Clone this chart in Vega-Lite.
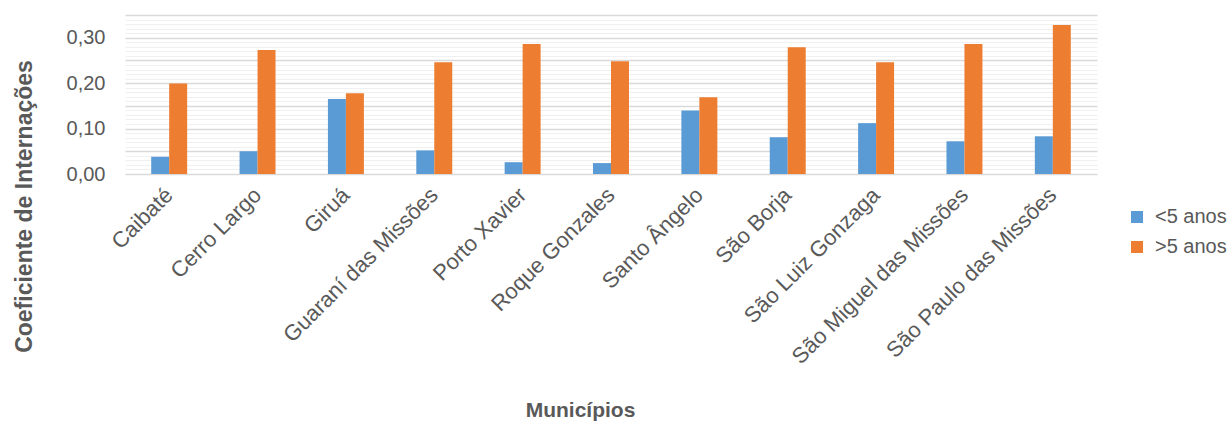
{
  "$schema": "https://vega.github.io/schema/vega-lite/v6.json",
  "width": 972,
  "height": 159,
  "autosize": {"type": "none"},
  "padding": {"left": 125, "top": 15, "right": 132, "bottom": 247},
  "config": {
    "view": {"stroke": null},
    "font": "Liberation Sans",
    "axis": {"labelFont": "Liberation Sans", "titleFont": "Liberation Sans"}
  },
  "data": {
    "values": [
      {"municipio": "Caibaté", "grupo": "<5 anos", "valor": 0.038},
      {"municipio": "Caibaté", "grupo": ">5 anos", "valor": 0.199},
      {"municipio": "Cerro Largo", "grupo": "<5 anos", "valor": 0.050},
      {"municipio": "Cerro Largo", "grupo": ">5 anos", "valor": 0.273},
      {"municipio": "Giruá", "grupo": "<5 anos", "valor": 0.165},
      {"municipio": "Giruá", "grupo": ">5 anos", "valor": 0.178},
      {"municipio": "Guaraní das Missões", "grupo": "<5 anos", "valor": 0.052},
      {"municipio": "Guaraní das Missões", "grupo": ">5 anos", "valor": 0.246},
      {"municipio": "Porto Xavier", "grupo": "<5 anos", "valor": 0.026},
      {"municipio": "Porto Xavier", "grupo": ">5 anos", "valor": 0.286},
      {"municipio": "Roque Gonzales", "grupo": "<5 anos", "valor": 0.024},
      {"municipio": "Roque Gonzales", "grupo": ">5 anos", "valor": 0.248},
      {"municipio": "Santo Ângelo", "grupo": "<5 anos", "valor": 0.140},
      {"municipio": "Santo Ângelo", "grupo": ">5 anos", "valor": 0.169},
      {"municipio": "São Borja", "grupo": "<5 anos", "valor": 0.081},
      {"municipio": "São Borja", "grupo": ">5 anos", "valor": 0.279},
      {"municipio": "São Luiz Gonzaga", "grupo": "<5 anos", "valor": 0.112},
      {"municipio": "São Luiz Gonzaga", "grupo": ">5 anos", "valor": 0.246},
      {"municipio": "São Miguel das Missões", "grupo": "<5 anos", "valor": 0.072},
      {"municipio": "São Miguel das Missões", "grupo": ">5 anos", "valor": 0.286},
      {"municipio": "São Paulo das Missões", "grupo": "<5 anos", "valor": 0.083},
      {"municipio": "São Paulo das Missões", "grupo": ">5 anos", "valor": 0.328}
    ]
  },
  "mark": {"type": "bar"},
  "encoding": {
    "x": {
      "field": "municipio",
      "type": "nominal",
      "sort": null,
      "scale": {"paddingInner": 0.593, "paddingOuter": 0.2965},
      "axis": {
        "title": "Municípios",
        "titleFontSize": 21,
        "titleFontWeight": "bold",
        "titleColor": "#595959",
        "titleX": 455,
        "titleY": 236,
        "titleAlign": "center",
        "titleBaseline": "middle",
        "labelAngle": -45,
        "labelFontSize": 22,
        "labelColor": "#595959",
        "labelPadding": 10,
        "labelOffset": -7,
        "labelLimit": 0,
        "labelOverlap": false,
        "ticks": false,
        "tickSize": 0,
        "domain": false,
        "grid": false
      }
    },
    "xOffset": {
      "field": "grupo",
      "type": "nominal",
      "scale": {"paddingInner": 0, "paddingOuter": 0}
    },
    "y": {
      "field": "valor",
      "type": "quantitative",
      "scale": {"domain": [0, 0.35], "nice": false, "zero": true},
      "axis": {
        "orient": "left",
        "title": "Coeficiente de Internações",
        "titleFontSize": 23,
        "titleFontWeight": "bold",
        "titleColor": "#595959",
        "titleX": -101,
        "titleY": 191,
        "titleAlign": "center",
        "titleBaseline": "middle",
        "titleAngle": -90,
        "values": [0, 0.01, 0.02, 0.03, 0.04, 0.05, 0.06, 0.07, 0.08, 0.09, 0.1, 0.11, 0.12, 0.13, 0.14, 0.15, 0.16, 0.17, 0.18, 0.19, 0.2, 0.21, 0.22, 0.23, 0.24, 0.25, 0.26, 0.27, 0.28, 0.29, 0.3, 0.31, 0.32, 0.33, 0.34, 0.35],
        "labelExpr": "abs(datum.value * 10 - round(datum.value * 10)) < 0.000001 && datum.value < 0.34 ? replace(format(datum.value, '.2f'), '.', ',') : ''",
        "labelFontSize": 20,
        "labelColor": "#595959",
        "labelPadding": 20,
        "labelOverlap": false,
        "labelFlush": false,
        "labelBound": false,
        "ticks": false,
        "tickSize": 0,
        "domain": false,
        "grid": true,
        "gridColor": {
          "condition": {"test": "abs(datum.value * 20 - round(datum.value * 20)) < 0.000001", "value": "#d9d9d9"},
          "value": "#f0f0f0"
        },
        "gridWidth": {
          "condition": {"test": "abs(datum.value * 20 - round(datum.value * 20)) < 0.000001", "value": 1.6},
          "value": 1
        }
      }
    },
    "color": {
      "field": "grupo",
      "type": "nominal",
      "scale": {"domain": ["<5 anos", ">5 anos"], "range": ["#5b9bd5", "#ed7d31"]},
      "legend": {
        "title": null,
        "orient": "none",
        "legendX": 1002,
        "legendY": 192,
        "symbolType": "square",
        "symbolSize": 144,
        "symbolStrokeWidth": 0,
        "labelFontSize": 20,
        "labelColor": "#595959",
        "labelOffset": 8,
        "labelLimit": 0,
        "rowPadding": 10,
        "padding": 0
      }
    }
  }
}
